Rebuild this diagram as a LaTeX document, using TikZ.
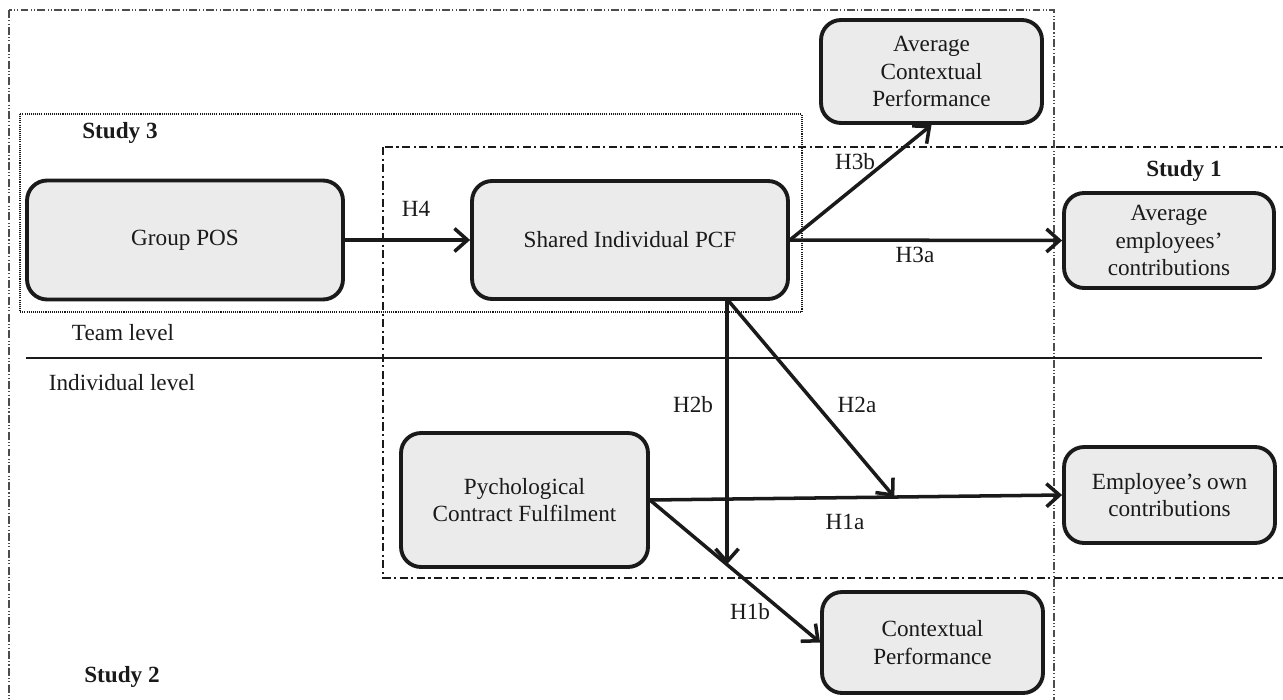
\documentclass[tikz,border=0pt]{standalone}
\usepackage{fontspec}
\setmainfont{Liberation Serif}
\usepackage{xcolor}
\usetikzlibrary{arrows.meta}

\definecolor{boxgray}{HTML}{EBEBEB}
\definecolor{inkgray}{HTML}{1A1A1A}

\newcommand{\diagfont}{\fontsize{13.2}{15.8}\selectfont}

\tikzset{
  var/.style={draw=inkgray, line width=2.2pt, rounded corners=0.4cm, fill=boxgray,
    align=center, inner sep=0pt, text=inkgray},
  hyp/.style={draw=inkgray, line width=2pt, ->},
  lbl/.style={inner sep=0pt, text=inkgray},
  studylbl/.style={inner sep=0pt, text=inkgray, font=\diagfont\bfseries},
  frameone/.style={draw=inkgray, line width=1.3pt, dash pattern=on 4.6pt off 2pt on 1.2pt off 2pt},
  frametwo/.style={draw=black!70, line width=0.7pt, dash pattern=on 4.5pt off 1.3pt on 0.6pt off 1.3pt on 0.6pt off 1.3pt},
  framethree/.style={draw=inkgray, line width=1pt, dash pattern=on 0.6pt off 0.6pt}
}

\begin{document}
\begin{tikzpicture}[x=0.02cm, y=-0.02cm, >={Straight Barb[length=0.26cm,width=0.46cm]},
  font=\diagfont]
		\useasboundingbox (0,0) rectangle (1283,699);
		% study frames
		\draw[frametwo] (9,10) rectangle (1054,712);
		\draw[framethree] (20,114) rectangle (802,312);
		\draw[frameone] (383,147) rectangle (1300,578);
		\draw[line width=1.3pt, inkgray] (26,358) -- (1262,358);
		%
		\node[studylbl] (study3) at (120,133) {Study 3};
		\node[studylbl] (study1) at (1184,171) {Study 1};
		\node[studylbl] (study2) at (122,677) {Study 2};
		\node[lbl] (team) at (123,333) {Team level};
		\node[lbl] (indiv) at (122,383) {Individual level};
		%
		\node[var, minimum width=6.32cm, minimum height=2.38cm] (pos) at (185,240) {Group POS};
		\node[var, minimum width=6.32cm, minimum height=2.36cm] (shared) at (630,240) {Shared Individual PCF};
		\node[var, minimum width=4.42cm, minimum height=2.06cm] (avgctx) at (931.5,71.5) {Average\\Contextual\\Performance};
		\node[var, minimum width=4.2cm, minimum height=1.9cm] (avgcontrib) at (1169,240.5) {Average\\employees'\\contributions};
		\node[var, minimum width=4.94cm, minimum height=2.68cm] (pcf) at (524.5,500) {Pychological\\Contract Fulfilment};
		\node[var, minimum width=4.22cm, minimum height=1.92cm] (owncontrib) at (1169.5,495) {Employee's own\\contributions};
		\node[var, minimum width=4.42cm, minimum height=2.02cm] (ctxperf) at (932.5,642.5) {Contextual\\Performance};
		%
		\coordinate (foot) at (727,299);
		\path (pcf.east) -- (owncontrib.west) coordinate[pos=0.593] (h1amid);
		\path (pcf.east) -- (ctxperf.west) coordinate[pos=0.452] (h1bmid);
		\coordinate (h2bend) at (foot |- h1bmid);
		%
		\draw[hyp] (pos.east) -- (shared.west);
		\draw[hyp] (shared.east) -- (avgcontrib.west);
		\draw[hyp] (shared.east) -- (avgctx.south);
		\draw[hyp] (pcf.east) -- (owncontrib.west);
		\draw[hyp] (pcf.east) -- (ctxperf.west);
		\draw[hyp] (foot) -- (h1amid);
		\draw[hyp] (foot) -- (h2bend);
		%
		\node[lbl] (h4) at (416,209) {H4};
		\node[lbl] (h3b) at (855,162) {H3b};
		\node[lbl] (h3a) at (915,255) {H3a};
		\node[lbl] (h2b) at (693,405) {H2b};
		\node[lbl] (h2a) at (857,405) {H2a};
		\node[lbl] (h1a) at (845,522) {H1a};
		\node[lbl] (h1b) at (750,612) {H1b};
\end{tikzpicture}
\end{document}
